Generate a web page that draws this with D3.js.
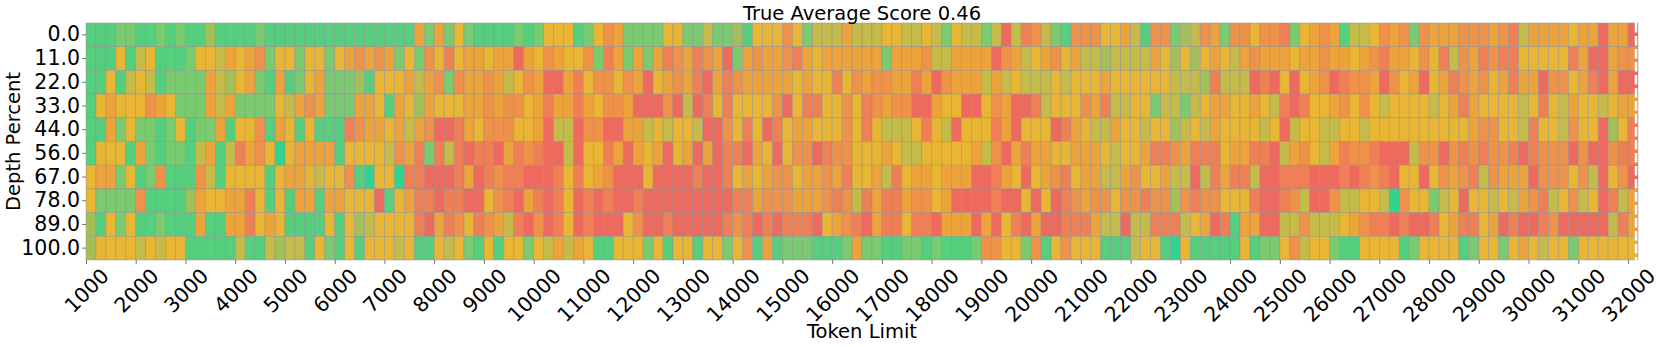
<!DOCTYPE html>
<html>
<head>
<meta charset="utf-8">
<script src="https://cdn.jsdelivr.net/npm/d3@7"></script>
<style>
	body { margin: 0; background: #fff; }
	text { font-family: "DejaVu Sans", sans-serif; fill: #000; }
</style>
</head>
<body>
<svg id="heatmap" width="1661" height="347"></svg>
<script>
// score levels, 0 = red ... 9 = teal. One array per depth row, one entry per 200 tokens
const depth0 = [8,8,8,7,7,8,8,7,8,7,8,8,6,8,8,8,8,7,8,8, 8,8,8,8,8,8,8,8,8,8,8,8,8,3,7,3,7,4,7,8, 8,8,8,7,8,7,4,4,4,8,7,4,2,3,7,7,7,7,4,4, 7,7,5,7,7,6,8,4,4,4,2,4,7,5,5,5,3,5,5,5, 4,4,5,5,4,5,7,4,5,5,7,5,0,5,1,2,5,7,8,2, 2,2,4,4,3,5,8,2,2,7,6,5,2,3,7,2,2,4,2,2, 1,7,4,3,2,3,8,5,5,4,2,3,2,7,2,3,3,3,2,2, 2,3,2,1,5,3,3,3,3,4,3,3,0,3,3,0];
const depth11 = [8,8,8,4,8,5,4,8,8,8,7,4,4,5,3,4,3,2,7,4, 4,7,4,4,7,4,3,2,3,2,3,7,4,7,2,4,1,4,3,3, 4,3,3,0,3,4,2,3,4,4,2,7,1,3,7,3,7,3,1,2, 3,1,2,3,0,7,3,2,3,3,2,1,3,4,3,3,3,3,3,3, 7,3,3,3,2,5,5,3,3,3,3,0,2,3,5,4,3,2,4,3, 5,5,6,5,5,5,5,3,4,6,4,6,4,3,4,5,3,2,3,3, 3,4,3,3,2,3,3,4,3,2,1,3,3,4,2,4,1,5,2,3, 1,2,1,1,4,4,4,4,4,1,3,0,0,3,2,2];
const depth22 = [8,8,4,8,5,4,5,8,7,7,7,7,3,5,6,4,3,7,8,3, 8,7,4,3,7,7,7,6,8,4,4,4,3,5,3,2,7,2,3,3, 2,3,5,4,2,3,0,0,3,1,4,2,2,4,2,3,0,4,3,2, 3,1,0,3,1,2,3,3,3,3,3,4,3,4,4,1,4,2,3,2, 2,3,3,1,3,0,2,3,3,3,5,3,5,4,5,5,5,4,5,4, 4,4,3,4,4,4,4,4,4,5,5,5,6,1,5,5,5,0,1,0, 4,0,4,3,2,0,1,2,2,3,0,2,4,3,0,4,3,1,2,3, 2,4,3,1,3,3,0,2,2,4,3,1,0,3,0,0];
const depth33 = [8,4,3,4,4,4,2,3,4,7,7,7,3,5,3,7,7,7,7,4, 5,3,2,3,7,7,7,3,3,4,8,3,4,6,3,4,4,4,3,3, 2,3,2,2,4,3,1,3,3,1,3,4,2,2,3,0,0,0,2,0, 5,0,1,4,1,4,4,4,4,2,0,4,1,1,4,4,2,4,1,2, 3,2,2,0,0,3,4,4,0,0,4,2,3,0,0,1,5,4,4,4, 2,3,1,5,5,4,4,7,5,5,7,5,4,3,3,4,4,3,4,5, 1,0,1,4,4,3,2,4,2,4,5,4,4,4,4,5,4,3,1,3, 4,4,4,4,5,4,1,4,5,3,4,4,5,4,3,3];
const depth44 = [8,8,3,7,4,7,7,8,7,4,8,7,7,3,8,4,4,2,8,3, 4,8,4,8,8,8,1,2,3,3,4,3,5,3,2,0,0,1,3,4, 2,2,2,4,4,3,0,5,5,0,2,2,0,0,3,3,5,4,5,4, 4,5,0,0,2,4,1,4,0,1,4,3,3,4,4,4,2,4,1,4, 5,5,5,4,1,4,5,0,4,4,4,1,3,0,4,4,4,0,1,3, 4,5,5,3,4,4,5,4,4,6,5,4,5,3,4,4,4,4,5,4, 0,5,4,4,5,5,4,4,5,4,4,4,4,4,4,4,4,4,4,3, 2,2,4,4,5,1,4,4,5,2,4,4,0,6,4,1];
const depth56 = [8,4,4,4,8,3,7,8,7,7,8,5,3,8,5,1,3,2,4,9, 4,3,3,3,3,8,4,4,4,4,5,2,3,1,7,1,5,1,0,1, 1,0,3,1,2,1,0,0,5,0,4,4,1,3,0,3,4,3,0,4, 3,0,3,0,1,1,0,3,4,0,4,2,2,0,1,2,2,4,4,4, 3,4,5,5,4,4,4,4,4,3,5,2,0,3,1,3,3,4,4,3, 3,3,4,5,4,4,3,1,1,2,3,1,1,1,4,3,3,1,1,0, 5,3,2,4,5,3,1,2,2,1,0,0,0,5,2,2,0,2,1,2, 1,2,2,1,0,1,2,2,2,0,2,0,0,2,1,1];
const depth67 = [4,3,3,7,4,8,7,2,8,8,8,2,5,8,4,4,4,4,8,4, 3,3,4,5,4,4,2,8,9,4,4,9,1,1,0,0,0,1,3,0, 1,2,1,1,0,0,0,1,4,1,4,3,2,0,0,0,4,0,0,0, 0,1,0,0,1,4,3,4,3,2,2,4,3,3,2,3,1,4,4,3, 5,1,4,3,3,4,3,3,3,0,0,1,3,4,0,4,3,2,1,4, 3,3,5,5,3,2,4,4,3,5,5,0,5,1,3,1,1,5,0,0, 1,1,1,0,0,0,1,0,1,2,1,0,4,4,0,4,2,3,2,1, 5,2,3,3,3,0,2,2,2,4,2,5,0,4,2,0];
const depth78 = [4,7,7,7,7,2,8,8,8,8,6,3,4,4,3,3,1,4,8,4, 8,3,3,8,3,3,4,4,4,0,8,4,3,1,1,0,1,1,0,0, 4,2,1,0,3,1,0,1,4,0,1,0,1,0,0,1,0,0,0,0, 0,0,0,0,0,1,1,3,2,2,2,3,3,3,2,1,2,5,1,3, 1,1,3,2,2,4,3,0,0,0,0,1,0,0,4,0,4,0,1,2, 3,2,2,4,2,2,1,2,2,6,2,1,2,2,4,4,4,1,0,0, 1,2,5,0,0,2,5,5,4,4,5,9,2,4,4,7,5,4,0,4, 4,5,4,5,3,2,1,5,4,2,5,4,0,1,5,3];
const depth89 = [6,8,4,7,4,8,8,7,8,8,8,3,8,8,3,3,1,4,3,4, 8,8,8,8,4,8,4,6,5,4,4,4,4,1,0,3,1,2,4,1, 2,3,5,1,0,2,0,1,4,0,1,0,0,0,4,2,0,0,1,0, 0,0,0,0,1,2,1,0,1,0,1,1,1,0,4,3,2,1,0,3, 1,1,4,1,1,0,3,3,3,0,3,0,4,1,0,3,0,0,1,1, 1,3,5,5,0,5,5,1,1,1,5,4,3,0,1,8,3,3,0,0, 5,5,2,5,5,5,4,3,2,1,1,0,1,0,0,1,4,3,1,1, 4,3,0,1,0,0,1,2,0,0,0,0,0,5,1,3];
const depth100 = [6,4,4,4,4,5,4,5,4,4,8,8,8,8,8,5,8,8,5,6, 5,5,8,4,7,8,4,8,4,4,4,5,4,8,8,4,5,4,7,8, 4,8,4,4,7,4,5,3,5,3,4,8,8,4,4,4,7,4,8,4, 4,8,4,4,7,4,2,8,3,8,7,7,7,8,8,8,7,3,7,7, 8,8,7,7,8,7,8,8,8,7,2,2,4,4,7,2,8,4,2,4, 4,4,8,8,8,5,4,4,8,9,4,8,8,8,8,8,4,8,7,7, 4,2,5,4,4,7,8,8,4,4,4,4,8,7,4,4,4,4,8,7, 4,4,7,4,3,4,5,4,4,7,4,4,4,4,4,4];

const depths = [0, 11, 22, 33, 44, 56, 67, 78, 89, 100];
const rows = [depth0, depth11, depth22, depth33, depth44, depth56, depth67, depth78, depth89, depth100];
const tokenStart = 1000;
const tokenStep = 200;
const tokenTicks = d3.range(1000, 32001, 1000);
const cutoffToken = 32160;
const levelColors = ["#ee6a5e", "#ef7f55", "#ef9249", "#eda33c", "#e8b634", "#c4bb4a", "#a3c058", "#7aca6f", "#55cf7d", "#2fd58f"];

const margin = {left: 86, right: 1638, top: 23, bottom: 260};
const tickFont = 20.5;
const labelFont = 19.5;
const svg = d3.select("#heatmap");

// scales
let x = d3.scaleLinear()
	.domain([tokenStart, tokenStart + tokenStep * depth0.length])
	.range([margin.left, margin.right]);
let y = d3.scaleBand()
	.domain(depths)
	.range([margin.top, margin.bottom]);
let color = d3.scaleLinear()
	.domain(d3.range(levelColors.length))
	.range(levelColors);

// cells
rows.forEach((row, i) => {
	svg.append("g").selectAll("rect")
		.data(row)
		.enter()
		.append("rect")
		.attr("x", (d, j) => x(tokenStart + j * tokenStep))
		.attr("y", y(depths[i]))
		.attr("width", x(tokenStep) - x(0))
		.attr("height", y.bandwidth())
		.attr("fill", d => color(d))
		.attr("stroke", "#8c8c8c")
		.attr("stroke-opacity", 0.7)
		.attr("stroke-width", 0.6);
});

// dashed line at the end
svg.append("line")
	.attr("x1", x(cutoffToken))
	.attr("x2", x(cutoffToken))
	.attr("y1", margin.top)
	.attr("y2", margin.bottom)
	.attr("stroke", "#fff")
	.attr("stroke-width", 2.5)
	.attr("stroke-dasharray", "9.5,3.5");

// axes
let xAxis = svg.append("g")
	.attr("transform", "translate(0," + margin.bottom + ")")
	.call(d3.axisBottom(x).tickValues(tokenTicks).tickFormat(d3.format("d")).tickSize(4).tickSizeOuter(0));
let yAxis = svg.append("g")
	.attr("transform", "translate(" + margin.left + ",0)")
	.call(d3.axisLeft(y).tickFormat(d3.format(".1f")).tickSize(4).tickSizeOuter(0).tickPadding(2));

[xAxis, yAxis].forEach(a => {
	a.select(".domain").remove();
	a.selectAll(".tick line").attr("stroke", "#777").attr("stroke-width", 1);
	a.selectAll("text").style("font-family", '"DejaVu Sans", sans-serif').style("font-size", tickFont + "px");
});

// rotated x labels, top of the rotated box is lined up like in matplotlib
xAxis.selectAll(".tick text").each(function() {
	let len = this.getComputedTextLength();
	let cy = 7 + (len + 14) * Math.SQRT1_2 / 2;
	d3.select(this)
		.attr("x", 0)
		.attr("y", 0)
		.attr("dy", "0.36em")
		.attr("text-anchor", "middle")
		.attr("transform", "translate(0," + cy + ") rotate(-45)");
});

// titles
svg.append("text")
	.attr("x", (margin.left + margin.right) / 2)
	.attr("y", 19.5)
	.attr("text-anchor", "middle")
	.style("font-size", labelFont + "px")
	.text("True Average Score 0.46");

svg.append("text")
	.attr("x", (margin.left + margin.right) / 2)
	.attr("y", 338)
	.attr("text-anchor", "middle")
	.style("font-size", labelFont + "px")
	.text("Token Limit");

svg.append("text")
	.attr("transform", "translate(20," + (margin.top + margin.bottom) / 2 + ") rotate(-90)")
	.attr("text-anchor", "middle")
	.style("font-size", labelFont + "px")
	.text("Depth Percent");
</script>
</body>
</html>
